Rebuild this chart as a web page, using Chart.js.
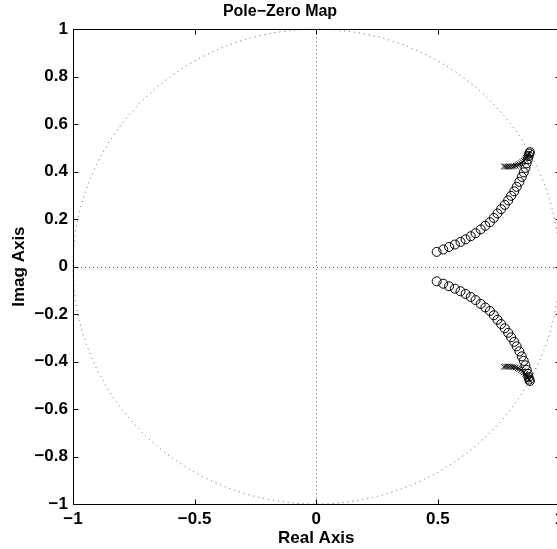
<!DOCTYPE html>
<html>
<head>
<meta charset="utf-8">
<script src="https://cdn.jsdelivr.net/npm/chart.js@4"></script>
<style>
  html, body { margin: 0; padding: 0; overflow: hidden; background: #fff; }
</style>
</head>
<body>
<canvas id="pzmap" width="565" height="549"></canvas>
<script>
// zeros (o) of the upper half plane; lower half is the conjugate
const zeroRe = [0.495, 0.522, 0.546, 0.570, 0.593, 0.614, 0.635, 0.655, 0.676, 0.695,
                0.714, 0.730, 0.745, 0.760, 0.775, 0.789, 0.801, 0.814, 0.824, 0.835,
                0.845, 0.853, 0.860, 0.865, 0.870, 0.873, 0.876, 0.878];
const zeroIm = [0.062, 0.072, 0.083, 0.093, 0.104, 0.115, 0.128, 0.141, 0.157, 0.172,
                0.187, 0.205, 0.224, 0.242, 0.260, 0.279, 0.298, 0.317, 0.336, 0.357,
                0.378, 0.397, 0.416, 0.435, 0.452, 0.466, 0.476, 0.482];
// poles (x) of the upper half plane
const poleRe = [0.772, 0.780, 0.788, 0.796, 0.804, 0.812, 0.820, 0.828, 0.835, 0.842,
                0.848, 0.854, 0.859, 0.863, 0.867, 0.870, 0.873, 0.875];
const poleIm = [0.422, 0.421, 0.421, 0.421, 0.422, 0.423, 0.425, 0.428, 0.431, 0.435,
                0.440, 0.445, 0.451, 0.457, 0.463, 0.469, 0.474, 0.478];

const xTicks = [-1, -0.5, 0, 0.5, 1];
const yTicks = [-1, -0.8, -0.6, -0.4, -0.2, 0, 0.2, 0.4, 0.6, 0.8, 1];

const conj = (re, im) => re.flatMap((r, i) => [{x: r, y: im[i]}, {x: r, y: -im[i]}]);
const fmt = v => String(Math.round(v * 10) / 10).replace('-', '\u2212');

Chart.defaults.font.family = "'Liberation Sans', Arial, sans-serif";
Chart.defaults.font.weight = 'bold';
Chart.defaults.font.size = 17;
Chart.defaults.color = '#000';

const frame = {
  id: 'frame',
  beforeDatasetsDraw(chart) {
    const {ctx, chartArea: a, scales: {x, y}} = chart;
    const cx = x.getPixelForValue(0), cy = y.getPixelForValue(0);
    ctx.save();
    ctx.strokeStyle = '#555';
    ctx.lineWidth = 1;
    ctx.setLineDash([1, 4]);
    // unit circle
    ctx.beginPath();
    ctx.ellipse(cx, cy, x.getPixelForValue(1) - cx, cy - y.getPixelForValue(1), 0, 0, 2 * Math.PI);
    ctx.stroke();
    // axes through the origin
    ctx.setLineDash([1, 3]);
    ctx.beginPath();
    ctx.moveTo(Math.round(cx) + 0.5, a.top);
    ctx.lineTo(Math.round(cx) + 0.5, a.bottom);
    ctx.moveTo(a.left, Math.round(cy) + 0.5);
    ctx.lineTo(a.right, Math.round(cy) + 0.5);
    ctx.stroke();
    ctx.restore();
  },
  afterDraw(chart) {
    const {ctx, chartArea: a, scales: {x, y}} = chart;
    const L = Math.round(a.left) + 0.5, R = Math.round(a.right) + 0.5;
    const T = Math.round(a.top) + 0.5, B = Math.round(a.bottom) + 0.5;
    ctx.save();
    ctx.strokeStyle = '#000';
    ctx.lineWidth = 1;
    ctx.strokeRect(L, T, R - L, B - T);
    ctx.beginPath();
    xTicks.forEach(v => {
      const px = Math.round(x.getPixelForValue(v)) + 0.5;
      ctx.moveTo(px, B); ctx.lineTo(px, B - 5);
      ctx.moveTo(px, T); ctx.lineTo(px, T + 5);
    });
    yTicks.forEach(v => {
      const py = Math.round(y.getPixelForValue(v)) + 0.5;
      ctx.moveTo(L, py); ctx.lineTo(L + 5, py);
      ctx.moveTo(R, py); ctx.lineTo(R - 5, py);
    });
    ctx.stroke();
    ctx.restore();
  }
};

new Chart(document.getElementById('pzmap'), {
  type: 'scatter',
  data: {
    datasets: [{
      label: 'Zeros',
      data: conj(zeroRe, zeroIm),
      pointStyle: 'circle',
      pointRadius: 4.5,
      pointBorderWidth: 1,
      borderColor: '#000',
      backgroundColor: 'rgba(0,0,0,0)'
    }, {
      label: 'Poles',
      data: conj(poleRe, poleIm),
      pointStyle: 'crossRot',
      pointRadius: 4,
      pointBorderWidth: 1,
      borderColor: '#000',
      backgroundColor: '#000'
    }]
  },
  options: {
    responsive: false,
    animation: false,
    layout: { padding: { left: 0, right: 5, top: 0, bottom: 0 } },
    plugins: {
      legend: { display: false },
      tooltip: { enabled: false },
      title: {
        display: true,
        text: 'Pole\u2212Zero Map',
        font: { size: 16, weight: 'bold' },
        padding: { top: 2, bottom: 8 }
      }
    },
    scales: {
      x: {
        type: 'linear',
        min: -1, max: 1,
        afterBuildTicks: s => { s.ticks = xTicks.map(v => ({value: v})); },
        afterFit: s => { s.height = 45; s.paddingLeft = 0; s.paddingRight = 0; },
        ticks: { callback: fmt, padding: 5, maxRotation: 0, autoSkip: false },
        grid: { display: false, drawTicks: false },
        border: { display: false },
        title: { display: true, text: 'Real Axis', padding: { top: 0, bottom: 0 } }
      },
      y: {
        type: 'linear',
        min: -1, max: 1,
        afterBuildTicks: s => { s.ticks = yTicks.map(v => ({value: v})); },
        afterFit: s => { s.width = 73; s.paddingTop = 0; s.paddingBottom = 0; },
        ticks: { callback: fmt, padding: 5, autoSkip: false },
        grid: { display: false, drawTicks: false },
        border: { display: false },
        title: { display: true, text: 'Imag Axis', padding: { top: 9, bottom: 0 } }
      }
    }
  },
  plugins: [frame]
});
</script>
</body>
</html>
